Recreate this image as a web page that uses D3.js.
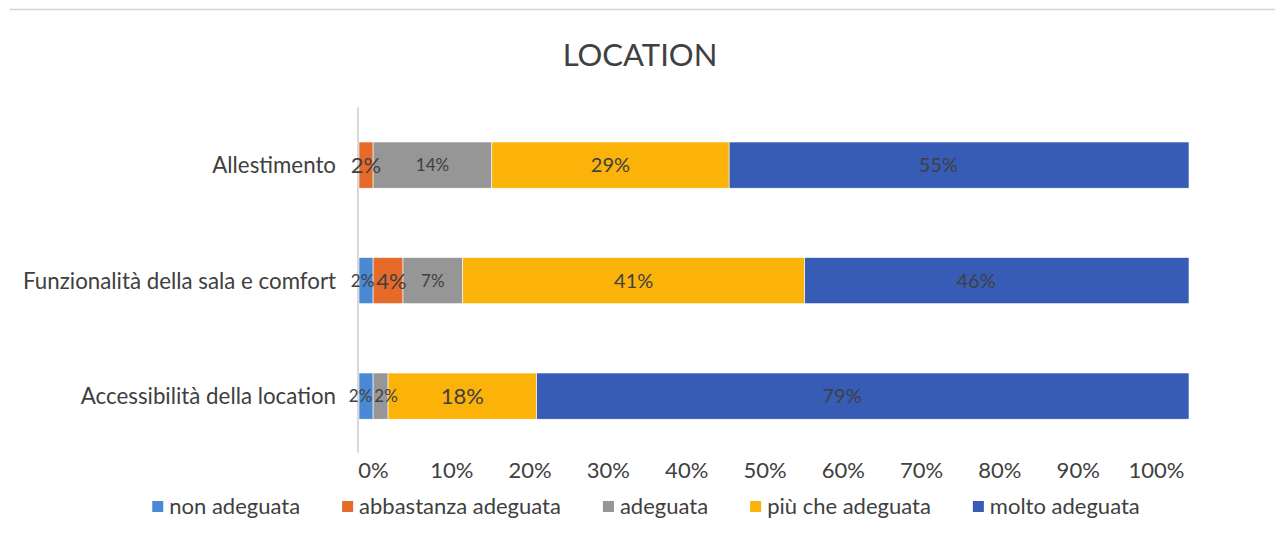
<!DOCTYPE html>
<html>
<head>
<meta charset="utf-8">
<script src="https://cdn.jsdelivr.net/npm/d3@7"></script>
<style>
  body { margin: 0; background: #fff; }
  text { font-family: Lato, "Open Sans", sans-serif; fill: #404040; }
</style>
</head>
<body>
<div id="chart"></div>
<script>
// data
const categories = ["Allestimento", "Funzionalità della sala e comfort", "Accessibilità della location"];
const seriesNames = ["non adeguata", "abbastanza adeguata", "adeguata", "più che adeguata", "molto adeguata"];
const nonAdeguata = [0, 0.017, 0.017];
const abbastanzaAdeguata = [0.017, 0.036, 0];
const adeguata = [0.143, 0.072, 0.018];
const piuCheAdeguata = [0.286, 0.412, 0.179];
const moltoAdeguata = [0.554, 0.463, 0.786];
const tickValues = [0, 0.1, 0.2, 0.3, 0.4, 0.5, 0.6, 0.7, 0.8, 0.9, 1];

// label size style per row / series (s, m, l)
const labelStyle = [
  ["s", "l", "s", "m", "m"],
  ["s", "l", "s", "m", "m"],
  ["s", "s", "s", "l", "m"]
];
const labelFont = { s: 17, m: 20, l: 22 };

const colors = ["#4a8ad4", "#e66a2a", "#969696", "#fbb30a", "#365cb6"];

const width = 1275, height = 540;

const svg = d3.select("#chart").append("svg")
  .attr("width", width)
  .attr("height", height);

// thin rule at the top
svg.append("line")
  .attr("x1", 10).attr("x2", width)
  .attr("y1", 9.5).attr("y2", 9.5)
  .attr("stroke", "#d4d4d4")
  .attr("stroke-width", 1.5);

svg.append("text")
  .attr("x", 640)
  .attr("y", 66)
  .attr("text-anchor", "middle")
  .style("font-size", "31px")
  .text("LOCATION");

const rows = categories.map((c, i) => {
  const r = { category: c };
  r[seriesNames[0]] = nonAdeguata[i];
  r[seriesNames[1]] = abbastanzaAdeguata[i];
  r[seriesNames[2]] = adeguata[i];
  r[seriesNames[3]] = piuCheAdeguata[i];
  r[seriesNames[4]] = moltoAdeguata[i];
  return r;
});

const stacked = d3.stack().keys(seriesNames)(rows);

const x = d3.scaleLinear().domain([0, 1]).range([359, 1189]);
const y = d3.scaleBand()
  .domain(categories)
  .range([107.35, 453.85])
  .paddingInner(0.6)
  .paddingOuter(0.3);

// tick labels sit on their own spacing in the original
const xTicks = d3.scaleLinear().domain([0, 1]).range([373, 1156]);

const color = d3.scaleOrdinal().domain(seriesNames).range(colors);

const groups = svg.append("g")
  .selectAll("g")
  .data(stacked)
  .enter().append("g")
  .attr("fill", d => color(d.key));

groups.selectAll("rect")
  .data(d => d.map((v, i) => ({ v, i, key: d.key })))
  .enter().append("rect")
  .attr("x", d => x(d.v[0]))
  .attr("y", d => y(categories[d.i]))
  .attr("width", d => x(d.v[1]) - x(d.v[0]))
  .attr("height", y.bandwidth())
  .attr("stroke", "#ffffff")
  .attr("stroke-width", 0.6);

// vertical axis line
svg.append("line")
  .attr("x1", 358).attr("x2", 358)
  .attr("y1", y.range()[0]).attr("y2", y.range()[1] - 1)
  .attr("stroke", "#d9d9d9")
  .attr("stroke-width", 2);

// data labels
const fmt = d3.format(".0%");
const labelLayer = svg.append("g");
stacked.forEach((s, si) => {
  const last = si === stacked.length - 1;
  labelLayer.selectAll(null)
    .data(s.map((v, i) => ({ v, i, si })).filter(d => d.v[1] - d.v[0] > 0))
    .enter().append("text")
    // in the original the last segment's label sits a bit left of centre
    .attr("x", d => (x(d.v[0]) + (last ? x(0.95) : x(d.v[1]))) / 2)
    .attr("y", d => y(categories[d.i]) + y.bandwidth() / 2)
    .attr("dy", "0.36em")
    .attr("text-anchor", "middle")
    .style("font-size", d => labelFont[labelStyle[d.i][si]] + "px")
    .text(d => fmt(d.v[1] - d.v[0]));
});

// push apart labels that collide within a row
categories.forEach((c, ri) => {
  const ts = labelLayer.selectAll("text").filter(d => d.i === ri).nodes()
    .sort((a, b) => d3.select(a).datum().si - d3.select(b).datum().si);
  for (let k = 1; k < ts.length; k++) {
    const a = ts[k - 1].getBBox(), b = ts[k].getBBox();
    const overlap = a.x + a.width + 2 - b.x;
    if (overlap > 0) {
      const ax = +ts[k - 1].getAttribute("x"), bx = +ts[k].getAttribute("x");
      ts[k - 1].setAttribute("x", ax - overlap / 2);
      ts[k].setAttribute("x", bx + overlap / 2);
    }
  }
});

// category labels
svg.append("g")
  .selectAll("text")
  .data(categories)
  .enter().append("text")
  .attr("x", 336)
  .attr("y", d => y(d) + y.bandwidth() / 2)
  .attr("dy", "0.36em")
  .attr("text-anchor", "end")
  .style("font-size", "22.3px")
  .text(d => d);

// x tick labels
const xAxis = d3.axisBottom(xTicks)
  .tickValues(tickValues)
  .tickFormat(d3.format(".0%"))
  .tickSize(0)
  .tickPadding(0);

const ax = svg.append("g")
  .attr("transform", "translate(0,462)")
  .call(xAxis);
ax.select(".domain").remove();
ax.selectAll("text")
  .style("font-size", "22px")
  .style("font-family", "Lato, sans-serif")
  .attr("fill", "#404040");

// legend
const legend = svg.append("g");
const gap = 42;
let lx = 0;
seriesNames.forEach((name, i) => {
  const item = legend.append("g").attr("transform", "translate(" + lx + ",0)");
  item.append("rect")
    .attr("x", 0).attr("y", 501)
    .attr("width", 11).attr("height", 11)
    .attr("fill", color(name));
  const t = item.append("text")
    .attr("x", 17).attr("y", 514)
    .style("font-size", "22px")
    .text(name);
  lx += 17 + t.node().getComputedTextLength() + gap;
});
const legendWidth = lx - gap;
legend.attr("transform", "translate(" + (646 - legendWidth / 2) + ",0)");
</script>
</body>
</html>
